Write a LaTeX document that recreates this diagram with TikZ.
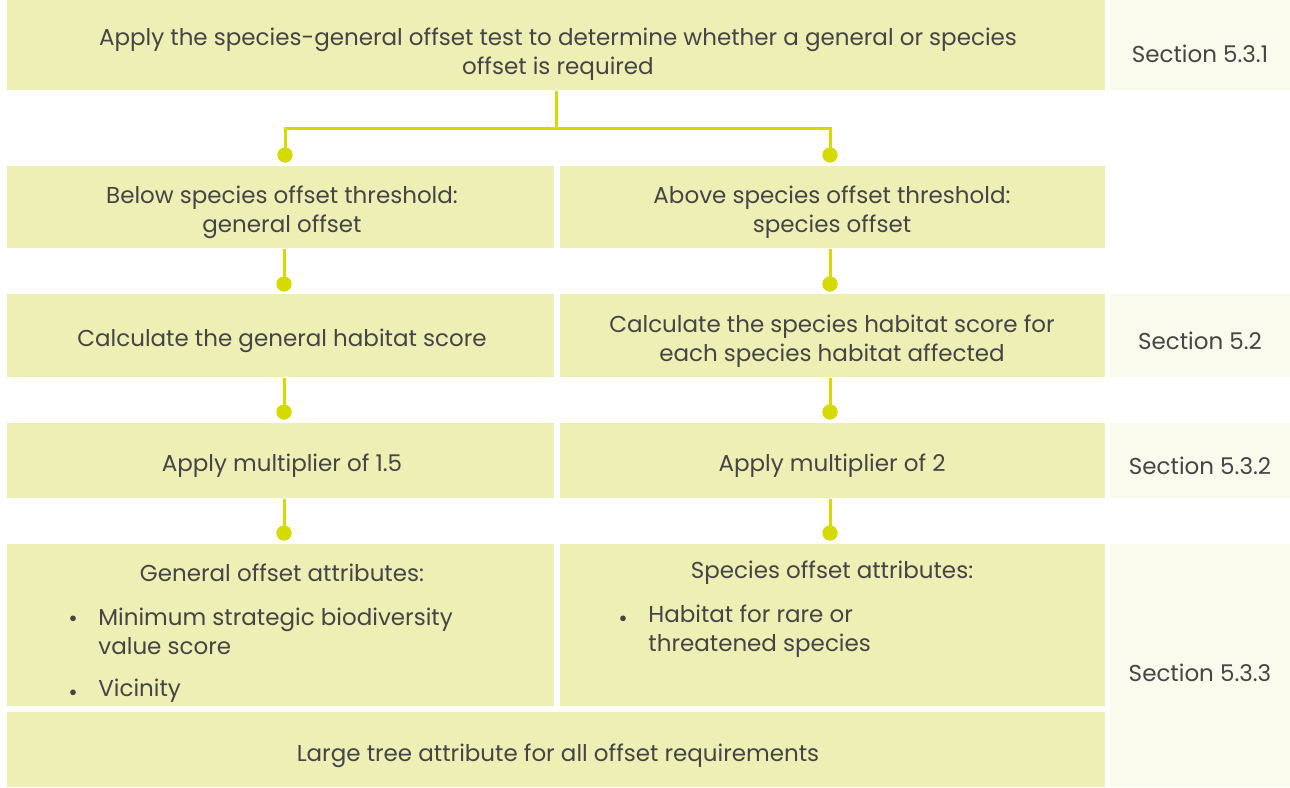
\documentclass[tikz,border=0pt]{standalone}
\usepackage{fontspec}
\setmainfont{Poppins}
\definecolor{boxc}{HTML}{EDEFB5}
\definecolor{secc}{HTML}{FAFBEC}
\definecolor{connc}{HTML}{D5DA00}
\definecolor{txtc}{HTML}{454545}
\begin{document}
\begin{tikzpicture}[x=0.5pt,y=-0.5pt,
  box/.style={fill=boxc,draw=none,inner sep=0pt,anchor=north west},
  secbox/.style={fill=secc,draw=none,inner sep=0pt,anchor=north west},
  txt/.style={text=txtc,align=center,inner sep=0pt,font=\fontsize{11.5}{14.5}\selectfont},
  ltxt/.style={text=txtc,align=left,inner sep=0pt,anchor=west,font=\fontsize{11.5}{14.5}\selectfont},
  dot/.style={circle,fill=connc,inner sep=0pt,minimum size=7.5pt},
  conn/.style={draw=connc,line width=1.5pt}]
\useasboundingbox (0,0) rectangle (1290,787);
% boxes
\node[box,minimum width=549pt,minimum height=45pt] (top) at (7,0) {};
\node[secbox,minimum width=90pt,minimum height=45pt] (s1) at (1110,0) {};
\node[box,minimum width=273.5pt,minimum height=41pt] (r2l) at (7,166) {};
\node[box,minimum width=272.5pt,minimum height=41pt] (r2r) at (560,166) {};
\node[box,minimum width=273.5pt,minimum height=41.5pt] (r3l) at (7,294) {};
\node[box,minimum width=272.5pt,minimum height=41.5pt] (r3r) at (560,294) {};
\node[secbox,minimum width=90pt,minimum height=41.5pt] (s2) at (1110,294) {};
\node[box,minimum width=273.5pt,minimum height=37.5pt] (r4l) at (7,423) {};
\node[box,minimum width=272.5pt,minimum height=37.5pt] (r4r) at (560,423) {};
\node[secbox,minimum width=90pt,minimum height=37.5pt] (s3) at (1110,423) {};
\node[box,minimum width=273.5pt,minimum height=81pt] (r5l) at (7,544) {};
\node[box,minimum width=272.5pt,minimum height=81pt] (r5r) at (560,544) {};
\node[box,minimum width=549pt,minimum height=37.5pt] (bot) at (7,712) {};
\node[secbox,minimum width=90pt,minimum height=121.5pt] (s4) at (1110,544) {};
% texts
\node[txt] (t1) at (558,54) {Apply the species-general offset test to determine whether a general or species\\offset is required};
\node[txt] (ts1) at (1200,54) {Section 5.3.1};
\node[txt] (t2l) at (282,212) {Below species offset threshold:\\general offset};
\node[txt] (t2r) at (832,212) {Above species offset threshold:\\species offset};
\node[txt] (t3l) at (282,341) {Calculate the general habitat score};
\node[txt] (t3r) at (832,341) {Calculate the species habitat score for\\each species habitat affected};
\node[txt] (ts2) at (1200,341) {Section 5.2};
\node[txt] (t4l) at (282,466) {Apply multiplier of 1.5};
\node[txt] (t4r) at (832,466) {Apply multiplier of 2};
\node[txt] (ts3) at (1200,466) {Section 5.3.2};
\node[txt] (t5l) at (282,573) {General offset attributes:};
\node[ltxt] (b1) at (68,621) {\textbullet};
\node[ltxt] (t5l1) at (98,631.5) {Minimum strategic biodiversity\\value score};
\node[ltxt] (b2) at (68,695) {\textbullet};
\node[ltxt] (t5l2) at (98,691) {Vicinity};
\node[txt] (t5r) at (832,573) {Species offset attributes:};
\node[ltxt] (b3) at (618,621) {\textbullet};
\node[ltxt] (t5r1) at (648,631.5) {Habitat for rare or\\threatened species};
\node[txt] (t6) at (558,756) {Large tree attribute for all offset requirements};
\node[txt] (ts4) at (1200,673) {Section 5.3.3};
% dots
\node[dot] (d1l) at (285,155) {};
\node[dot] (d1r) at (830,155) {};
\node[dot] (d2l) at (284,284) {};
\node[dot] (d2r) at (830,284) {};
\node[dot] (d3l) at (284,412) {};
\node[dot] (d3r) at (830,412) {};
\node[dot] (d4l) at (284,533) {};
\node[dot] (d4r) at (830,533) {};
% connectors
\draw[conn] (top.south) -- ++(0,38) coordinate (j) -| (d1l.center);
\draw[conn] (j) -| (d1r.center);
\draw[conn] (d2l |- r2l.south) -- (d2l.center);
\draw[conn] (d2r |- r2r.south) -- (d2r.center);
\draw[conn] (d3l |- r3l.south) -- (d3l.center);
\draw[conn] (d3r |- r3r.south) -- (d3r.center);
\draw[conn] (d4l |- r4l.south) -- (d4l.center);
\draw[conn] (d4r |- r4r.south) -- (d4r.center);
\foreach \d in {d1l,d1r,d2l,d2r,d3l,d3r,d4l,d4r} \fill[connc] (\d) circle (3.75pt);
\end{tikzpicture}
\end{document}
